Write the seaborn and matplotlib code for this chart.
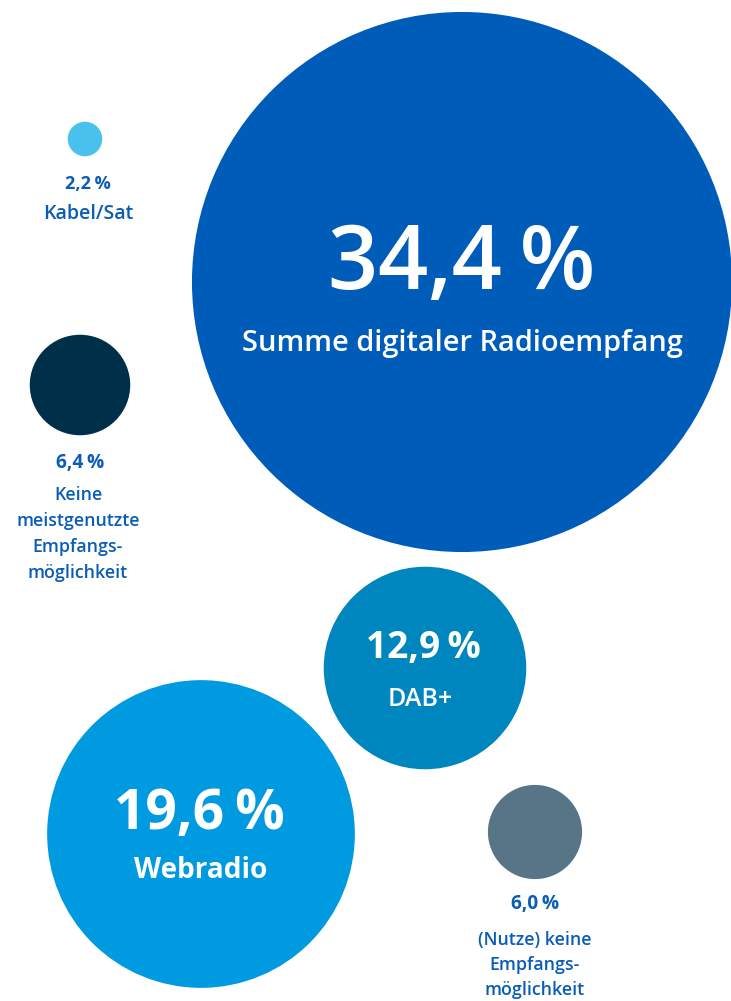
import seaborn as sns
import pandas as pd
import matplotlib.pyplot as plt

# bubble data (values in percent), layout centres in pixel space
labels = ["Summe digitaler Radioempfang", "Kabel/Sat",
          "Keine meistgenutzte Empfangsmöglichkeit", "DAB+", "Webradio",
          "(Nutze) keine Empfangsmöglichkeit"]
values = [34.4, 2.2, 6.4, 12.9, 19.6, 6.0]
value_text = ["34,4\u2009%", "2,2\u2009%", "6,4\u2009%", "12,9\u2009%",
              "19,6\u2009%", "6,0\u2009%"]
pos_x = [462, 85, 80, 425, 201, 535]
pos_y = [282, 139, 385, 668, 834, 832]
colors = ["#005CB9", "#4AC1EC", "#003049", "#0086BF", "#009AE0", "#587587"]

PX_PER_UNIT = 7.85   # bubble radius in px per percent
TEXT_BLUE = "#0A5DB6"
FONT = "Open Sans"


def px2pt(px):
    return px * 0.72


def main():
    sns.set_style("white")
    plt.rcParams['font.family'] = [FONT, 'DejaVu Sans']
    df = pd.DataFrame({"label": labels, "value": values, "x": pos_x, "y": pos_y})
    # marker area in points^2 so that the radius is linear in the value
    df["s"] = (2 * px2pt(df["value"] * PX_PER_UNIT)) ** 2

    fig = plt.figure(figsize=(7.31, 10.01), dpi=100)
    ax = fig.add_axes([0, 0, 1, 1])
    sns.scatterplot(data=df, x="x", y="y", hue="label",
                    palette=dict(zip(labels, colors)), s=df["s"].values,
                    linewidth=0, legend=False, ax=ax)
    ax.set_xlim(0, 731)
    ax.set_ylim(1001, 0)
    ax.axis("off")

    # labels inside the big bubbles
    ax.text(462, 266, value_text[0], color="white", fontsize=px2pt(88),
            fontweight="semibold", ha="center", va="center")
    ax.text(462, 344, labels[0], color="white", fontsize=px2pt(29),
            fontweight="semibold", ha="center", va="center")
    ax.text(423, 648, value_text[3], color="white", fontsize=px2pt(37),
            fontweight="bold", ha="center", va="center")
    ax.text(420, 699, labels[3], color="white", fontsize=px2pt(25),
            fontweight="semibold", ha="center", va="center")
    ax.text(199, 815, value_text[4], color="white", fontsize=px2pt(55),
            fontweight="bold", ha="center", va="center")
    ax.text(201, 871, labels[4], color="white", fontsize=px2pt(28),
            fontweight="bold", ha="center", va="center")

    # labels below the small bubbles
    ax.text(88, 184, value_text[1], color=TEXT_BLUE, fontsize=px2pt(18),
            fontweight="bold", ha="center", va="center")
    ax.text(88, 214, labels[1], color=TEXT_BLUE, fontsize=px2pt(19.5),
            fontweight="semibold", ha="center", va="center")

    ax.text(80, 463, value_text[2], color=TEXT_BLUE, fontsize=px2pt(19),
            fontweight="bold", ha="center", va="center")
    ax.text(78, 534, "Keine\nmeistgenutzte\nEmpfangs-\nmöglichkeit",
            color=TEXT_BLUE, fontsize=px2pt(17.8), fontweight="semibold",
            ha="center", va="center", linespacing=1.55)

    ax.text(535, 904, value_text[5], color=TEXT_BLUE, fontsize=px2pt(19),
            fontweight="bold", ha="center", va="center")
    ax.text(535, 965, "(Nutze) keine\nEmpfangs-\nmöglichkeit",
            color=TEXT_BLUE, fontsize=px2pt(17.8), fontweight="semibold",
            ha="center", va="center", linespacing=1.48)

    fig.savefig("out.png", dpi=100)
    plt.close(fig)


if __name__ == '__main__':
    main()
